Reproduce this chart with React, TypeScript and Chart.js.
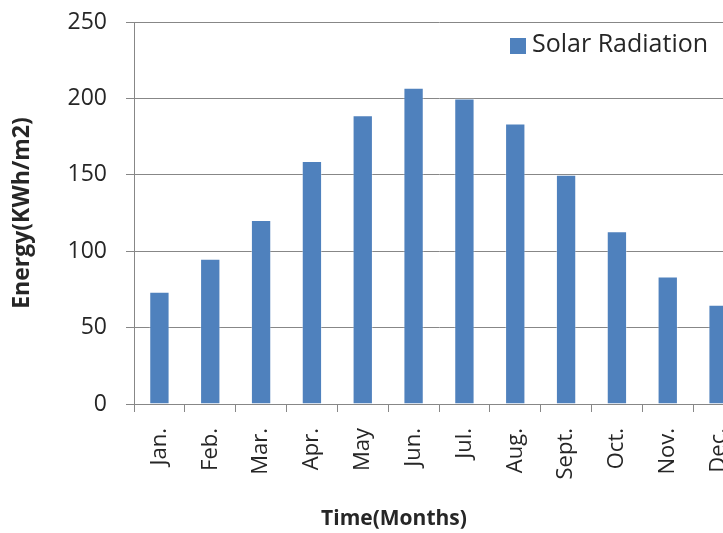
import React, { useEffect, useRef } from 'react';
import { Chart, registerables } from 'chart.js';

Chart.register(...registerables);

const months = ['Jan.', 'Feb.', 'Mar.', 'Apr.', 'May', 'Jun.', 'Jul.', 'Aug.', 'Sept.', 'Oct.', 'Nov.', 'Dec.'];
const solarRadiation = [73.5, 95, 120.5, 159, 189, 207, 200, 183.5, 150, 113, 83.5, 65];
const yTicks = [0, 50, 100, 150, 200, 250];
const seriesName = 'Solar Radiation';
const xTitle = 'Time(Months)';
const yTitle = 'Energy(KWh/m2)';

const FONT = '"Open Sans", "Noto Sans", sans-serif';
const BAR = '#4F81BD';
const GRID = '#878787';
const TEXT = '#262626';

const overlayPlugin = {
  id: 'overlay',
  afterDraw(chart: any) {
    const ctx = chart.ctx;
    ctx.save();
    // legend
    ctx.fillStyle = BAR;
    ctx.fillRect(510, 38, 16, 16);
    ctx.fillStyle = TEXT;
    ctx.font = `25px ${FONT}`;
    ctx.textAlign = 'left';
    ctx.textBaseline = 'middle';
    ctx.fillText(chart.data.datasets[0].label, 532, 45);
    // x title
    ctx.font = `bold 21px ${FONT}`;
    ctx.textAlign = 'center';
    ctx.fillText(xTitle, 394, 519);
    ctx.restore();
  },
};

export default function App() {
  const ref = useRef<HTMLCanvasElement | null>(null);
  useEffect(() => {
    if (!ref.current) return;
    const chart = new Chart(ref.current, {
      type: 'bar',
      data: {
        labels: months,
        datasets: [
          {
            label: seriesName,
            data: solarRadiation,
            backgroundColor: BAR,
            borderColor: 'rgba(255,255,255,0.35)',
            borderWidth: 1,
            barPercentage: 0.4,
            categoryPercentage: 1,
          },
        ],
      },
      options: {
        responsive: false,
        animation: false,
        layout: { padding: { top: 22, right: 16, left: 0, bottom: 0 } },
        plugins: { legend: { display: false }, tooltip: { enabled: false } },
        scales: {
          x: {
            offset: true,
            grid: { display: true, drawOnChartArea: false, drawTicks: true, tickLength: 8, color: GRID, offset: true },
            border: { color: GRID, width: 1 },
            ticks: {
              autoSkip: false,
              minRotation: 90,
              maxRotation: 90,
              padding: 16,
              color: TEXT,
              font: { family: FONT, size: 22 },
            },
            afterFit: (s: any) => {
              s.height = 129;
              s.paddingLeft = 0;
              s.paddingRight = 0;
            },
          },
          y: {
            min: 0,
            max: 250,
            grid: { color: GRID, tickColor: GRID, tickLength: 8, drawTicks: true },
            border: { color: GRID, width: 1 },
            ticks: {
              color: TEXT,
              padding: 19,
              font: { family: FONT, size: 23 },
            },
            afterBuildTicks: (s: any) => {
              s.ticks = yTicks.map((v) => ({ value: v }));
            },
            title: {
              display: true,
              text: yTitle,
              color: TEXT,
              font: { family: FONT, size: 23, weight: 'bold' },
              padding: { top: 9, bottom: 0 },
            },
            afterFit: (s: any) => {
              s.width = 134;
              s.paddingTop = 0;
              s.paddingBottom = 0;
            },
          },
        },
      },
      plugins: [overlayPlugin],
    });
    return () => chart.destroy();
  }, []);
  return (
    <div style={{ position: 'absolute', left: 0, top: 0, width: 723, height: 533, overflow: 'hidden', background: '#fff' }}>
      <canvas ref={ref} width={760} height={533} style={{ display: 'block' }} />
    </div>
  );
}
